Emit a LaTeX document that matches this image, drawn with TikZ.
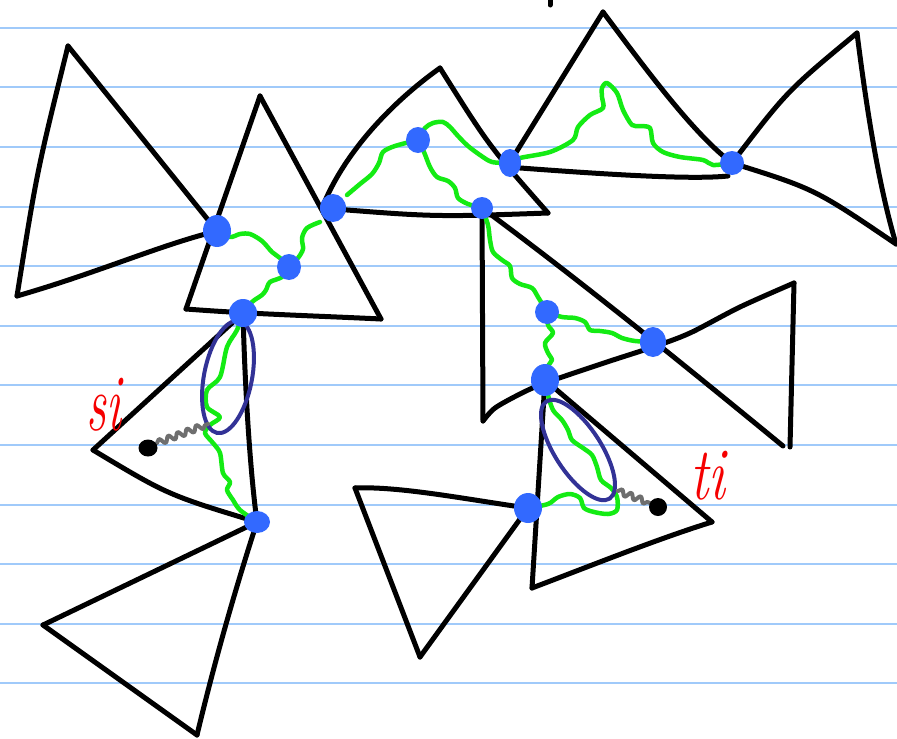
\documentclass[tikz,border=0pt]{standalone}
\usetikzlibrary{decorations.pathmorphing,calc}
\definecolor{rulecol}{RGB}{160,202,250}
\definecolor{hgreen}{RGB}{20,235,20}
\definecolor{dotblue}{RGB}{50,105,255}
\definecolor{navy}{RGB}{50,50,150}
\definecolor{wgray}{RGB}{110,110,110}
\definecolor{hred}{RGB}{245,0,0}
\begin{document}
\begin{tikzpicture}[x=1pt,y=-1pt,line cap=round,line join=round,
  edge/.style={draw=black,line width=5pt},
  gpath/.style={draw=hgreen,line width=4.5pt},
  loopst/.style={draw=navy,line width=4pt},
  wig/.style={draw=wgray,line width=4pt,decorate,decoration={snake,amplitude=3pt,segment length=10pt}},
  bdot/.style={fill=dotblue},
  lbl/.style={text=hred,inner sep=0pt,font=\fontsize{62}{62}\selectfont\itshape}]
\useasboundingbox (0,0) rectangle (897,739);
% ruled paper
\foreach \k in {0,...,11}
  \draw[rulecol,line width=2pt] (0,{27.7+59.6*\k}) -- (897,{27.7+59.6*\k});
% dots (junctions)
\coordinate (p1) at (217,231);
\coordinate (p2) at (289,267);
\coordinate (p3) at (243,313);
\coordinate (p4) at (333,208);
\coordinate (p5) at (418,140);
\coordinate (p6) at (482,208);
\coordinate (p7) at (510,163);
\coordinate (p8) at (732,163);
\coordinate (p9) at (547,312);
\coordinate (p10) at (653,342);
\coordinate (p11) at (545,380);
\coordinate (p12) at (528,508);
\coordinate (p13) at (257,522);
% vertices
\coordinate (A1) at (68,46);   \coordinate (A2) at (17,296);
\coordinate (B1) at (260,96);  \coordinate (B2) at (186,309); \coordinate (B3) at (381,319);
\coordinate (C1) at (322,208); \coordinate (C2) at (440,68);  \coordinate (C3) at (548,213);
\coordinate (D1) at (603,12);  \coordinate (D2) at (507,167); \coordinate (D3) at (728,176);
\coordinate (E2) at (857,33);  \coordinate (E3) at (896,244);
\coordinate (F2) at (483,421); \coordinate (F4) at (783,446);
\coordinate (G1) at (794,283); \coordinate (G2) at (790,447);
\coordinate (H2) at (532,588); \coordinate (H3) at (712,522);
\coordinate (I2) at (355,488); \coordinate (I3) at (420,657);
\coordinate (J2) at (93,450);
\coordinate (K2) at (43,625);  \coordinate (K3) at (197,735);
\coordinate (T0) at (550,0);   \coordinate (T1) at (550,5);
% black triangles
\draw[edge] (A1) -- (p1);
\draw[edge] (A1) .. controls (37,171) .. (A2);
\draw[edge] (A2) .. controls (100,272) and (160,245) .. (p1);
\draw[edge] (B1) -- (B2);
\draw[edge] (B1) -- (B3);
\draw[edge] (B2) .. controls (250,314) and (320,316) .. (B3);
\draw[edge] (C1) .. controls (345,150) and (395,100) .. (C2);
\draw[edge] (C2) .. controls (489,146) .. (C3);
\draw[edge] (C1) .. controls (435,217) .. (C3);
\draw[edge] (D1) -- (D2);
\draw[edge] (D1) .. controls (650,75) and (695,135) .. (p8);
\draw[edge] (D2) .. controls (600,174) and (690,180) .. (D3);
\draw[edge] (p8) .. controls (787,91) .. (E2);
\draw[edge] (E2) .. controls (868,120) and (880,190) .. (E3);
\draw[edge] (p8) .. controls (815,189) .. (E3);
\draw[edge] (p6) .. controls (582,282) and (683,364) .. (F4);
\draw[edge] (p6) -- (F2);
\draw[edge] plot[smooth] coordinates {(F2) (495,408) (520,394) (545,383) (607,362) (653,347) (690,333) (740,307) (G1)};
\draw[edge] (G1) -- (G2);
\draw[edge] (p11) -- (H2);
\draw[edge] (H2) .. controls (590,566) and (660,538) .. (H3);
\draw[edge] (H3) -- (p11);
\draw[edge] (I2) .. controls (400,486) and (470,500) .. (p12);
\draw[edge] (I2) -- (I3);
\draw[edge] (I3) -- (p12);
\draw[edge] (p3) -- (J2);
\draw[edge] (J2) .. controls (168,495) .. (p13);
\draw[edge] (p3) .. controls (245,390) and (250,470) .. (p13);
\draw[edge] (p13) -- (K2);
\draw[edge] (K2) -- (K3);
\draw[edge] (K3) .. controls (215,660) and (235,590) .. (p13);
\draw[edge] (T0) -- (T1);
% green paths
\draw[gpath] plot[smooth] coordinates {(p1) (230,237) (240,234) (250,234) (262,241) (272,252) (280,258) (p2)};
\draw[gpath] plot[smooth] coordinates {(p2) (298,258) (303,249) (302,238) (307,228) (320,222)};
\draw[gpath] plot[smooth] coordinates {(p2) (282,277) (270,282) (266,290) (262,295) (252,302) (p3)};
\draw[gpath] plot[smooth] coordinates {(347,195) (360,184) (372,174) (379,163) (383,152) (395,146) (p5)};
\draw[gpath] plot[smooth] coordinates {(p5) (425,128) (433,123) (443,122) (450,127) (458,136) (468,146) (480,155) (492,162) (p7)};
\draw[gpath] plot[smooth] coordinates {(p5) (424,152) (430,167) (437,177) (448,181) (455,188) (458,198) (468,204) (p6)};
\draw[gpath] plot[smooth] coordinates {(p7) (520,158) (550,152) (573,140) (578,127) (590,115) (603,108) (602,97) (602,88) (607,83) (617,93) (623,110) (632,125) (640,126) (650,128) (653,143) (663,152) (680,157) (703,160) (713,165) (p8)};
\draw[gpath] plot[smooth] coordinates {(p6) (488,225) (490,240) (493,252) (502,260) (510,266) (512,278) (520,284) (532,288) (538,297) (p9)};
\draw[gpath] plot[smooth] coordinates {(p9) (562,317) (575,318) (585,322) (590,330) (600,331) (612,333) (622,338) (635,341) (p10)};
\draw[gpath] plot[smooth] coordinates {(p9) (548,325) (553,333) (545,343) (548,353) (552,360) (548,366) (p11)};
\draw[gpath] plot[smooth] coordinates {(p11) (548,395) (553,410) (562,420) (568,430) (572,440) (583,448) (592,455) (597,467) (601,480) (611,488) (617,497) (617,510) (608,514) (594,512) (584,508) (580,498) (570,494) (558,497) (548,504) (p12)};
\draw[gpath] plot[smooth] coordinates {(p3) (237,330) (227,347) (220,377) (207,390) (207,407) (220,417) (210,425) (205,433) (213,443) (220,453) (223,473) (230,482) (227,490) (233,500) (240,510) (p13)};
% loops
\coordinate (e1) at (228,377);
\coordinate (e2) at (578,450);
\draw[loopst,rotate around={-11:(e1)}] (e1) ellipse [x radius=24pt,y radius=57pt];
\draw[loopst,rotate around={-57:(e2)}] (e2) ellipse [x radius=58pt,y radius=23pt];
% blue dots
\fill[bdot] (p1) ellipse [x radius=14pt,y radius=16pt];
\fill[bdot] (p2) ellipse [x radius=12pt,y radius=13pt];
\fill[bdot] (p3) ellipse [x radius=14pt,y radius=14pt];
\fill[bdot] (p4) ellipse [x radius=13pt,y radius=14pt];
\fill[bdot] (p5) ellipse [x radius=12pt,y radius=13pt];
\fill[bdot] (p6) ellipse [x radius=11pt,y radius=11pt];
\fill[bdot] (p7) ellipse [x radius=11pt,y radius=14pt];
\fill[bdot] (p8) ellipse [x radius=12pt,y radius=12pt];
\fill[bdot] (p9) ellipse [x radius=12pt,y radius=12pt];
\fill[bdot] (p10) ellipse [x radius=13pt,y radius=15pt];
\fill[bdot] (p11) ellipse [x radius=14pt,y radius=16pt];
\fill[bdot] (p12) ellipse [x radius=14pt,y radius=15pt];
\fill[bdot] (p13) ellipse [x radius=13pt,y radius=11pt];
% s and t with gray wiggles
\coordinate (sd) at (148,448);
\coordinate (td) at (658,507);
\coordinate (sw) at (208,424);
\coordinate (tw) at (618,491);
\coordinate (sd2) at (157,443);
\coordinate (td2) at (650,503);
\draw[wig] (sd2) -- (sw);
\draw[wig] (tw) -- (td2);
\fill (sd) ellipse [x radius=9.5pt,y radius=8.5pt];
\fill (td) circle (9pt);
\node[lbl] (si) at (104,405) {\scalebox{0.8}[1.3]{si}};
\node[lbl] (ti) at (708,476) {\scalebox{0.9}[1.2]{ti}};
\end{tikzpicture}
\end{document}
